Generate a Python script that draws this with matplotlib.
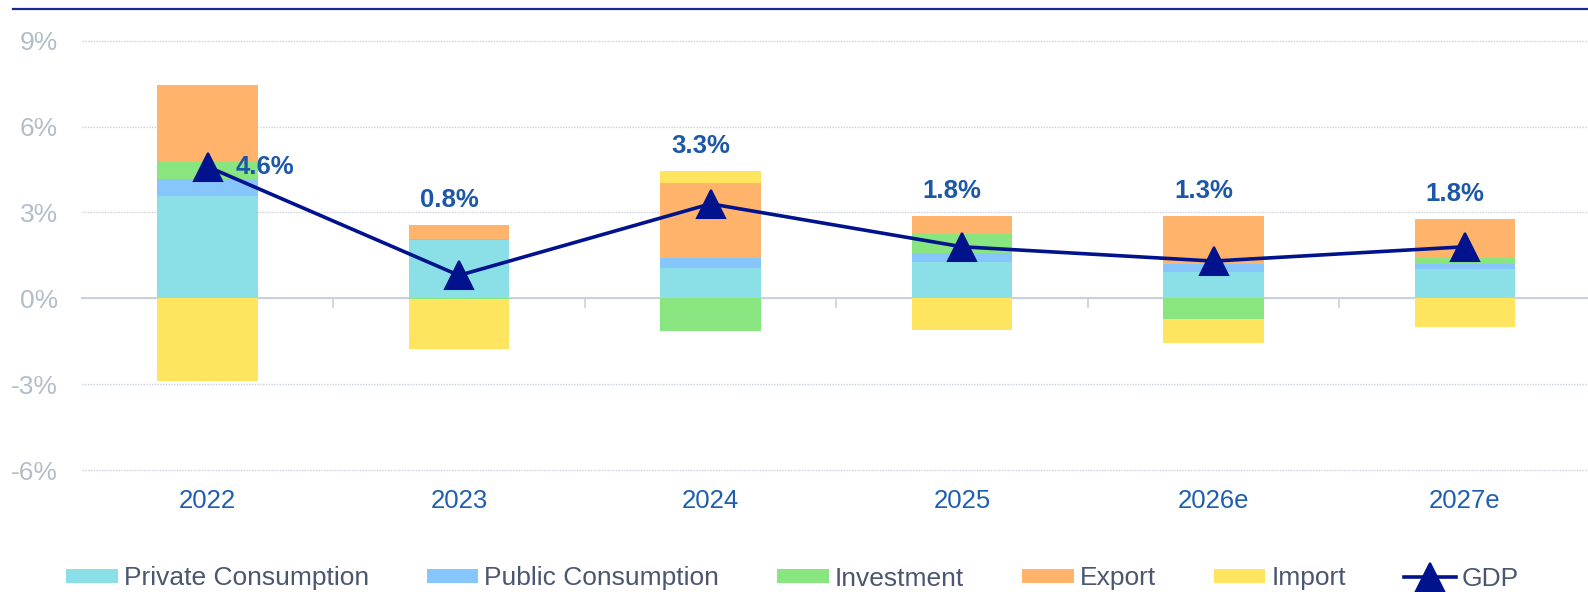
import numpy as np
import matplotlib
matplotlib.use("Agg")
import matplotlib.pyplot as plt
from matplotlib.lines import Line2D

# Contributions to GDP growth, percentage points
years = ["2022", "2023", "2024", "2025", "2026e", "2027e"]
private_consumption = [3.57, 2.05, 1.07, 1.28, 0.93, 1.01]
public_consumption = [0.59, 0.03, 0.35, 0.29, 0.26, 0.18]
investment = [0.61, -0.03, -1.14, 0.69, -0.73, 0.23]
export = [2.68, 0.47, 2.62, 0.63, 1.70, 1.34]
imports = [-2.88, -1.73, 0.40, -1.11, -0.84, -0.99]
gdp = [4.6, 0.8, 3.3, 1.8, 1.3, 1.8]

y_ticks = [-6, -3, 0, 3, 6, 9]

series = [
    ("Private Consumption", private_consumption, "#8be0e8"),
    ("Public Consumption", public_consumption, "#86c6fc"),
    ("Investment", investment, "#88e580"),
    ("Export", export, "#ffb36b"),
    ("Import", imports, "#ffe460"),
]

GDP_COLOR = "#00128c"
LABEL_COLOR = "#1d58a8"
TICK_GREY = "#b3bdc8"
GRID_GREY = "#c9d1dc"

plt.rcParams["font.family"] = ["Liberation Sans", "DejaVu Sans"]

W, H = 1588, 592
fig = plt.figure(figsize=(W / 100, H / 100), dpi=100)
fig.patch.set_facecolor("white")
ax = fig.add_axes([81.75 / W, 1 - 470 / H, 1509 / W, (470 - 40.7) / H])

x = np.arange(len(years))
pos_base = np.zeros(len(years))
neg_base = np.zeros(len(years))

bar_handles = []
for name, vals, colour in series:
    v = np.asarray(vals, dtype=float)
    bottom = np.where(v >= 0, pos_base, neg_base)
    bars = ax.bar(x, v, bottom=bottom, width=0.4, color=colour,
                  edgecolor="none", label=name, zorder=2)
    bar_handles.append(bars)
    pos_base += np.clip(v, 0, None)
    neg_base += np.clip(v, None, 0)

gdp_line, = ax.plot(x, gdp, color=GDP_COLOR, lw=2.6, marker="^",
                    markersize=20, markeredgewidth=1.5,
                    markeredgecolor=GDP_COLOR, solid_joinstyle="round",
                    label="GDP", zorder=4)

# value labels: first one beside the marker, the rest above the stacks
for i, g in enumerate(gdp):
    if i == 0:
        ax.annotate(f"{g:.1f}%", (x[i], g), xytext=(20, 0),
                    textcoords="offset points", ha="left", va="center",
                    fontsize=18.5, fontweight="bold", color=LABEL_COLOR,
                    zorder=5)
    else:
        ax.annotate(f"{g:.1f}%", (x[i], pos_base[i]), xytext=(-7, 18),
                    textcoords="offset points", ha="center", va="center",
                    fontsize=18.5, fontweight="bold", color=LABEL_COLOR,
                    zorder=5)

ymin, ymax = y_ticks[0], y_ticks[-1]
ax.set_ylim(ymin, ymax)
ax.set_xlim(-0.5, len(years) - 0.5)

ax.set_yticks(y_ticks)
ax.set_yticklabels([f"{t}%" for t in y_ticks])
ax.set_xticks(x)
ax.set_xticklabels(years)
ax.tick_params(axis="y", length=0, pad=17, labelsize=19, labelcolor=TICK_GREY)
ax.tick_params(axis="x", length=0, pad=14, labelsize=18.5, labelcolor="#1f5eb0")

ax.set_axisbelow(True)
ax.yaxis.grid(True, linestyle=(0, (1, 1)), color=GRID_GREY, linewidth=1)
ax.xaxis.grid(False)
for gl in ax.get_ygridlines():
    gl.set_clip_on(False)
for spine in ax.spines.values():
    spine.set_visible(False)

# zero line with small ticks between the year groups
zero_ax = ax.secondary_xaxis((0 - ymin) / (ymax - ymin))
zero_ax.set_xticks(x[:-1] + 0.5)
zero_ax.set_xticklabels([])
zero_ax.tick_params(length=7, width=1.2, color=GRID_GREY, direction="out")
for name, spine in zero_ax.spines.items():
    spine.set_color(GRID_GREY)
    spine.set_linewidth(1.5)

# rule across the top of the figure
fig.add_artist(Line2D([13 / W, 1.0], [1 - 9 / H, 1 - 9 / H],
                      transform=fig.transFigure, color="#1b2a8c", lw=1.6))

handles = bar_handles + [gdp_line]
labels = [s[0] for s in series] + ["GDP"]
leg = ax.legend(handles, labels, loc="center",
                bbox_to_anchor=(0.499, 1 - 578.5 / H),
                bbox_transform=fig.transFigure, ncol=6, frameon=False,
                fontsize=19, labelcolor="#4b5670", handlelength=1.95,
                handleheight=0.47, handletextpad=0.23, columnspacing=2.2,
                borderpad=0, borderaxespad=0)
# keep every entry on one line, whatever the glyph descents
leg._legend_handle_box.align = "center"

fig.savefig("out.png", dpi=100, facecolor="white")
